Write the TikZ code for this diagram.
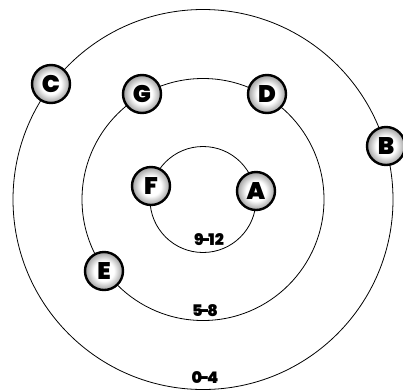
\documentclass[tikz,border=0pt]{standalone}
\usepackage{fontspec}
\setmainfont{Poppins}[BoldFont={Poppins Black}]
\pgfdeclareradialshading{ballshade}{\pgfpointorigin}{color(0bp)=(white); color(13bp)=(white); color(25bp)=(black!38); color(50bp)=(black!38)}
\begin{document}
\begin{tikzpicture}[x=1pt,y=-1pt,
  ring/.style={draw=black,line width=0.8pt},
  ball/.style={circle,draw=black,line width=2.4pt,shading=ballshade,
    minimum size=38pt,inner sep=0pt,font=\fontsize{24}{24}\selectfont\bfseries},
  band/.style={fill=white,inner sep=0.5pt,font=\fontsize{16}{16}\selectfont\bfseries}]
\useasboundingbox (0,0) rectangle (403,389);
\coordinate (O) at (203,199.5);
\draw[ring] (O) circle[radius=190];
\draw[ring] (O) circle[radius=121];
\draw[ring] (O) circle[radius=53];
\node[band] (l1) at (209,240) {9\kern-2.2pt-\kern-2.2pt12};
\node[band] (l2) at (205,311) {5\kern-2.2pt-\kern-2.2pt8};
\node[band] (l3) at (205,378) {0\kern-2.2pt-\kern-2.2pt4};
\node[ball] (C) at (51,84) {C};
\node[ball] (G) at (142,94) {G};
\node[ball] (D) at (267,94) {D};
\node[ball] (B) at (386,146) {B};
\node[ball] (F) at (151,186) {F};
\node[ball] (A) at (256,191) {A};
\node[ball] (E) at (104,271) {E};
\end{tikzpicture}
\end{document}
